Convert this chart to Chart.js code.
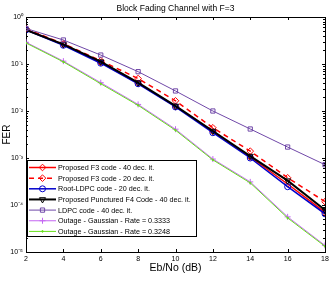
<!DOCTYPE html>
<html>
<head>
<meta charset="utf-8">
<script src="https://cdn.jsdelivr.net/npm/chart.js@4/dist/chart.umd.min.js"></script>
<style>
html,body{margin:0;padding:0;background:#fff;}
#wrap{width:332px;height:281px;}
</style>
</head>
<body>
<div id="wrap"><canvas id="c" width="332" height="281"></canvas></div>
<script>
const ebno = [2, 4, 6, 8, 10, 12, 14, 16, 18];
const f3_40 = [0.54, 0.26, 0.108, 0.039, 0.0125, 0.0037, 0.00105, 2.8e-4, 7.0e-5];
const f3_20 = [0.56, 0.27, 0.118, 0.049, 0.0165, 0.0044, 0.0014, 3.8e-4, 1.18e-4];
const rootLdpc20 = [0.53, 0.25, 0.104, 0.038, 0.0122, 0.00345, 1.0e-3, 2.45e-4, 6.5e-5];
const f4_40 = [0.53, 0.262, 0.112, 0.040, 0.0128, 0.00375, 0.0011, 3.3e-4, 7.8e-5];
const ldpc40 = [0.57, 0.324, 0.155, 0.0687, 0.0267, 0.010, 0.00414, 0.00171, 7.2e-4];
const outage3333 = [0.29, 0.115, 0.040, 0.0138, 0.0041, 9.5e-4, 3.1e-4, 5.6e-5, 1.38e-5];
const outage3248 = [0.28, 0.111, 0.038, 0.0132, 0.0039, 9.1e-4, 2.95e-4, 5.3e-5, 1.32e-5];
const seriesLabels = [
  'Proposed F3 code - 40 dec. it.',
  'Proposed F3 code - 20 dec. it.',
  'Root-LDPC code - 20 dec. it.',
  'Proposed Punctured F4 Code - 40 dec. it.',
  'LDPC code - 40 dec. it.',
  'Outage - Gaussian - Rate = 0.3333',
  'Outage - Gaussian - Rate = 0.3248'
];
const xTicks = [2, 4, 6, 8, 10, 12, 14, 16, 18];
const yDecades = [-5, -4, -3, -2, -1, 0];
const yTickLabels = ['10\u207B\u2075', '10\u207B\u2074', '10\u207B\u00B3', '10\u207B\u00B2', '10\u207B\u00B9', '10\u2070'];
const titleText = 'Block Fading Channel with F=3';
const xTitle = 'Eb/No (dB)';
const yTitle = 'FER';

const FONT = "'Liberation Sans', Arial, Helvetica, sans-serif";
const pts = arr => arr.map((v, i) => ({x: ebno[i], y: v}));
const none = 'rgba(0,0,0,0)';

const styles = [
  {color: '#ff0000', width: 1.5, dash: [], point: 'rectRot', r: 3.3, rot: 0, fill: none},
  {color: '#ff0000', width: 1.5, dash: [5, 4], point: 'rectRot', r: 3.3, rot: 0, fill: none},
  {color: '#0000cc', width: 1.5, dash: [], point: 'circle', r: 3, rot: 0, fill: none},
  {color: '#000000', width: 2, dash: [], point: 'triangle', r: 3.5, rot: 180, fill: none},
  {color: '#7048a8', width: 1, dash: [], point: 'rect', r: 3, rot: 0, fill: none},
  {color: '#c466f2', width: 1, dash: [], point: 'cross', r: 3, rot: 0, fill: none},
  {color: '#66e01a', width: 1, dash: [], point: 'circle', r: 0.8, rot: 0, fill: '#66e01a'}
];
const allSeries = [f3_40, f3_20, rootLdpc20, f4_40, ldpc40, outage3333, outage3248];

const datasets = allSeries.map((arr, i) => {
  const s = styles[i];
  return {
    label: seriesLabels[i],
    data: pts(arr),
    borderColor: s.color,
    borderWidth: s.width,
    borderDash: s.dash,
    pointStyle: s.point,
    pointRadius: s.r,
    pointRotation: s.rot,
    pointBorderColor: s.color,
    pointBackgroundColor: s.fill,
    pointBorderWidth: 1,
    backgroundColor: s.fill,
    fill: false,
    tension: 0,
    order: allSeries.length - i
  };
});

const frame = {
  id: 'frame',
  beforeDatasetsDraw(chart) {
    const {ctx, chartArea: a, scales} = chart;
    ctx.save();
    ctx.strokeStyle = '#000';
    ctx.lineWidth = 1;
    ctx.beginPath();
    scales.x.ticks.forEach(t => {
      const px = Math.round(scales.x.getPixelForValue(t.value)) + 0.5;
      ctx.moveTo(px, a.bottom); ctx.lineTo(px, a.bottom - 3);
      ctx.moveTo(px, a.top); ctx.lineTo(px, a.top + 3);
    });
    scales.y.ticks.forEach(t => {
      const py = Math.round(scales.y.getPixelForValue(t.value)) + 0.5;
      const len = t.major ? 3 : 2;
      ctx.moveTo(a.left, py); ctx.lineTo(a.left + len, py);
      ctx.moveTo(a.right, py); ctx.lineTo(a.right - len, py);
    });
    ctx.stroke();
    ctx.strokeRect(Math.round(a.left) + 0.5, Math.round(a.top) + 0.5,
      Math.round(a.right - a.left), Math.round(a.bottom - a.top));
    ctx.fillStyle = '#000';
    ctx.font = '8.5px ' + FONT;
    ctx.textAlign = 'center';
    ctx.textBaseline = 'middle';
    ctx.fillText(titleText, (a.left + a.right) / 2, 8.5);
    ctx.restore();
  },
  afterDatasetsDraw(chart) {
    const {ctx} = chart;
    const bx = 27.5, by = 160.5, bw = 169, bh = 76;
    ctx.save();
    ctx.fillStyle = '#fff';
    ctx.fillRect(bx, by, bw, bh);
    ctx.strokeStyle = '#000';
    ctx.lineWidth = 1;
    ctx.strokeRect(bx, by, bw, bh);
    chart.data.datasets.forEach((ds, i) => {
      const y = 167.5 + i * 10.65;
      ctx.save();
      ctx.strokeStyle = ds.borderColor;
      ctx.lineWidth = ds.borderWidth;
      ctx.setLineDash(ds.borderDash || []);
      ctx.beginPath();
      ctx.moveTo(29, y); ctx.lineTo(56, y);
      ctx.stroke();
      ctx.setLineDash([]);
      ctx.strokeStyle = ds.pointBorderColor;
      ctx.fillStyle = ds.pointBackgroundColor;
      ctx.lineWidth = ds.pointBorderWidth;
      Chart.helpers.drawPoint(ctx, {pointStyle: ds.pointStyle, rotation: ds.pointRotation, radius: ds.pointRadius, borderWidth: ds.pointBorderWidth}, 42.5, y);
      ctx.restore();
      ctx.fillStyle = '#000';
      ctx.font = '7.2px ' + FONT;
      ctx.textBaseline = 'middle';
      ctx.textAlign = 'left';
      ctx.fillText(ds.label, 58, y + 0.5);
    });
    ctx.restore();
  }
};

new Chart(document.getElementById('c'), {
  type: 'line',
  data: {datasets},
  options: {
    responsive: false,
    animation: false,
    devicePixelRatio: 1,
    layout: {padding: {left: 0, right: 7, top: 17, bottom: 0}},
    plugins: {
      legend: {display: false},
      tooltip: {enabled: false},
      title: {display: false}
    },
    scales: {
      x: {
        type: 'linear',
        min: 2, max: 18,
        afterBuildTicks: s => { s.ticks = xTicks.map(v => ({value: v})); },
        afterFit: s => { s.height = 29; },
        grid: {display: false, drawTicks: false},
        border: {display: false},
        ticks: {color: '#000', font: {family: FONT, size: 7}, padding: 3, maxRotation: 0, autoSkip: false},
        title: {display: true, text: xTitle, color: '#000', font: {family: FONT, size: 10.5}, padding: {top: 0, bottom: 7}}
      },
      y: {
        type: 'logarithmic',
        min: 1e-5, max: 1,
        afterBuildTicks: s => {
          const t = [];
          yDecades.forEach(e => {
            for (let m = 1; m <= 9; m++) {
              if (e === 0 && m > 1) break;
              t.push({value: m * Math.pow(10, e), major: m === 1});
            }
          });
          s.ticks = t;
        },
        afterFit: s => { s.width = 26; },
        grid: {display: false, drawTicks: false},
        border: {display: false},
        ticks: {
          color: '#000', font: {family: FONT, size: 7}, padding: 3, autoSkip: false,
          callback: function(v) {
            const e = Math.round(Math.log10(v));
            if (Math.abs(v - Math.pow(10, e)) < 1e-9 * Math.pow(10, e)) {
              const k = yDecades.indexOf(e);
              return k >= 0 ? yTickLabels[k] : '';
            }
            return '';
          }
        },
        title: {display: true, text: yTitle, color: '#000', font: {family: FONT, size: 10}, padding: {top: 1, bottom: 0}}
      }
    }
  },
  plugins: [frame]
});
</script>
</body>
</html>
